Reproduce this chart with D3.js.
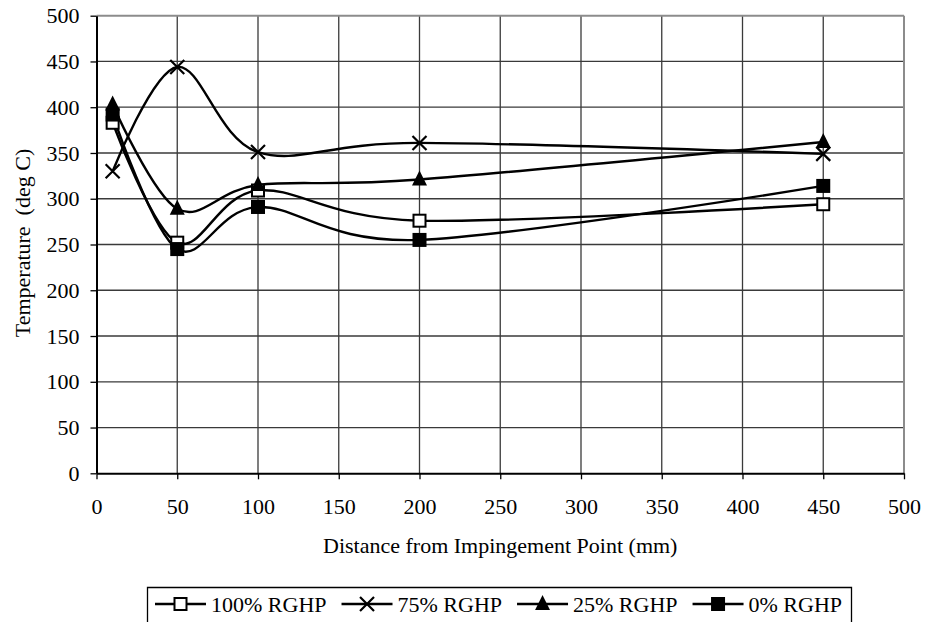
<!DOCTYPE html>
<html>
<head>
<meta charset="utf-8">
<script src="https://cdn.jsdelivr.net/npm/d3@7"></script>
<style>
  body { margin: 0; background: #fff; }
  text { font-family: "Liberation Serif", "Times New Roman", serif; fill: #000; }
</style>
</head>
<body>
<svg id="chart" width="925" height="622"></svg>
<script>
// data
const distances = [10, 50, 100, 200, 450]
const rghp100 = [383, 252, 309, 276, 294]
const rghp75 = [330, 444, 351, 361, 349]
const rghp25 = [403, 289, 315, 321, 362]
const rghp0 = [392, 245, 291, 255, 314]
const seriesNames = ["100% RGHP", "75% RGHP", "25% RGHP", "0% RGHP"]
const markerKinds = ["openSquare", "cross", "triangle", "filledSquare"]
const xTicks = [0, 50, 100, 150, 200, 250, 300, 350, 400, 450, 500]
const yTicks = [0, 50, 100, 150, 200, 250, 300, 350, 400, 450, 500]

const allSeries = [rghp100, rghp75, rghp25, rghp0]

const svg = d3.select('#chart')
const fontSize = 22

const x = d3.scaleLinear().domain([0, 500]).range([96.5, 904])
const y = d3.scaleLinear().domain([0, 500]).range([473.3, 15.7])

// grid
svg.append('g')
  .selectAll('line')
  .data(yTicks.slice(1, -1))
  .join('line')
  .attr('x1', x(0)).attr('x2', x(500))
  .attr('y1', d => y(d)).attr('y2', d => y(d))
  .attr('stroke', '#3a3a3a').attr('stroke-width', 1.3)

svg.append('g')
  .selectAll('line')
  .data(xTicks.slice(1, -1))
  .join('line')
  .attr('y1', y(0)).attr('y2', y(500))
  .attr('x1', d => x(d)).attr('x2', d => x(d))
  .attr('stroke', '#3a3a3a').attr('stroke-width', 1.3)

// top and right border in grey
svg.append('line')
  .attr('x1', x(0)).attr('x2', x(500)).attr('y1', y(500)).attr('y2', y(500))
  .attr('stroke', '#8c8c8c').attr('stroke-width', 2)
svg.append('line')
  .attr('x1', x(500)).attr('x2', x(500)).attr('y1', y(500)).attr('y2', y(0))
  .attr('stroke', '#8c8c8c').attr('stroke-width', 2)

// axes
const xAxis = svg.append('g')
  .attr('transform', `translate(0,${y(0)})`)
  .call(d3.axisBottom(x).tickValues(xTicks).tickSize(6).tickPadding(19).tickSizeOuter(0))
const yAxis = svg.append('g')
  .attr('transform', `translate(${x(0)},0)`)
  .call(d3.axisLeft(y).tickValues(yTicks).tickSize(6).tickPadding(11).tickSizeOuter(0))

for (const ax of [xAxis, yAxis]) {
  ax.select('.domain').attr('stroke', '#000').attr('stroke-width', 2)
  ax.selectAll('.tick line').attr('stroke', '#000').attr('stroke-width', 1.3)
  ax.selectAll('.tick text')
    .style('font-family', '"Liberation Serif", serif')
    .style('font-size', fontSize + 'px')
    .attr('fill', '#000')
}

// axis titles
svg.append('text')
  .attr('x', (x(0) + x(500)) / 2)
  .attr('y', 553)
  .attr('text-anchor', 'middle')
  .style('font-size', fontSize + 'px')
  .text('Distance from Impingement Point (mm)')

svg.append('text')
  .attr('transform', `translate(30,243) rotate(-90)`)
  .attr('text-anchor', 'middle')
  .style('font-size', fontSize + 'px')
  .style('white-space', 'pre')
  .text('Temperature  (deg C)')

// smoothed lines
const line = d3.line()
  .x((d, i) => x(distances[i]))
  .y(d => y(d))
  .curve(d3.curveCardinal.tension(0))

svg.append('g')
  .selectAll('path')
  .data(allSeries)
  .join('path')
  .attr('d', line)
  .attr('fill', 'none')
  .attr('stroke', '#000')
  .attr('stroke-width', 2.4)

function drawMarker(g, kind, cx, cy) {
  if (kind === 'openSquare') {
    g.append('rect').attr('x', cx - 6).attr('y', cy - 6).attr('width', 12).attr('height', 12)
      .attr('fill', '#fff').attr('stroke', '#000').attr('stroke-width', 2)
  } else if (kind === 'filledSquare') {
    g.append('rect').attr('x', cx - 7).attr('y', cy - 7).attr('width', 14).attr('height', 14)
      .attr('fill', '#000')
  } else if (kind === 'triangle') {
    g.append('path')
      .attr('d', `M${cx},${cy - 9}L${cx + 7.5},${cy + 6}L${cx - 7.5},${cy + 6}Z`)
      .attr('fill', '#000')
  } else if (kind === 'cross') {
    g.append('path')
      .attr('d', `M${cx - 7},${cy - 7}L${cx + 7},${cy + 7}M${cx - 7},${cy + 7}L${cx + 7},${cy - 7}`)
      .attr('stroke', '#000').attr('stroke-width', 2.2)
  }
}

const markers = svg.append('g')
allSeries.forEach((vals, s) => {
  vals.forEach((v, i) => drawMarker(markers, markerKinds[s], x(distances[i]), y(v)))
})

// legend
const legend = svg.append('g')
const legLeft = 147.5, legRight = 851.5, legTop = 587.5
legend.append('path')
  .attr('d', `M${legLeft},630V${legTop}H${legRight}V630`)
  .attr('fill', 'none').attr('stroke', '#000').attr('stroke-width', 1.3)

let cursor = 155
const legY = 604
seriesNames.forEach((name, s) => {
  legend.append('line')
    .attr('x1', cursor).attr('x2', cursor + 51)
    .attr('y1', legY).attr('y2', legY)
    .attr('stroke', '#000').attr('stroke-width', 2.4)
  drawMarker(legend, markerKinds[s], cursor + 25.5, legY)
  const t = legend.append('text')
    .attr('x', cursor + 56)
    .attr('y', 612)
    .style('font-size', fontSize + 'px')
    .text(name)
  cursor += 56 + t.node().getComputedTextLength() + 15
})
</script>
</body>
</html>
